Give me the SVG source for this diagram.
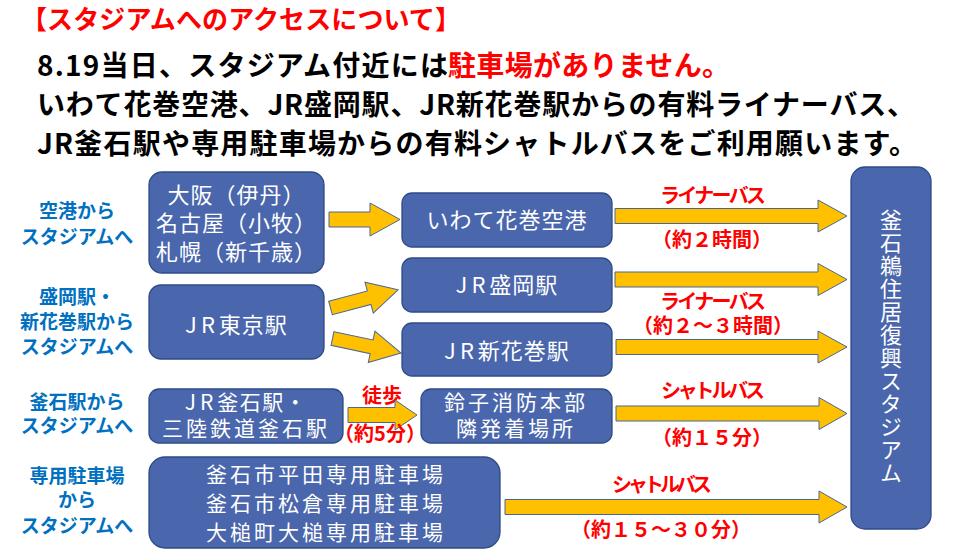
<svg xmlns="http://www.w3.org/2000/svg" width="960" height="556" viewBox="0 0 960 556">
<style>
text { font-family: "Noto Sans CJK JP", "Liberation Sans", sans-serif; }
.box { fill: #4A66AC; stroke: #2F4B86; stroke-width: 1.3; }
.arw { fill: #FFC000; stroke: #4A6796; stroke-width: 1; }
.wt { fill: #FFFFFF; font-size: 22px; text-anchor: middle; letter-spacing: 1px; }
.wp { fill: #FFFFFF; font-size: 21px; text-anchor: middle; letter-spacing: 3px; }
.w2 { fill: #FFFFFF; font-size: 21px; text-anchor: middle; letter-spacing: 1.5px; }
.jr { letter-spacing: 4px; }
.bl { fill: #0070C0; font-size: 19px; font-weight: 700; text-anchor: middle; }
.rd { fill: #FF0000; font-size: 20px; font-weight: 700; text-anchor: middle; }
.hd { fill: #000000; font-size: 28px; font-weight: 700; }
</style>
<rect width="960" height="556" fill="#FFFFFF"/>

<g id="heading">
  <text x="21" y="29" font-size="26" font-weight="700" fill="#FF0000" textLength="440" lengthAdjust="spacing">【スタジアムへのアクセスについて】</text>
  <text class="hd" x="37" y="76" textLength="411" lengthAdjust="spacing">8.19当日、スタジアム付近には</text>
  <text class="hd" x="448" y="76" fill="#FF0000" style="fill:#FF0000" textLength="282" lengthAdjust="spacing">駐車場がありません。</text>
  <text class="hd" x="37" y="115" textLength="878" lengthAdjust="spacing">いわて花巻空港、JR盛岡駅、JR新花巻駅からの有料ライナーバス、</text>
  <text class="hd" x="37" y="154" textLength="880" lengthAdjust="spacing">JR釜石駅や専用駐車場からの有料シャトルバスをご利用願います。</text>
</g>

<g id="labels">
  <text class="bl" x="77" y="218">空港から</text>
  <text class="bl" x="77" y="244">スタジアムへ</text>
  <text class="bl" x="77" y="304">盛岡駅・</text>
  <text class="bl" x="77" y="329">新花巻駅から</text>
  <text class="bl" x="77" y="354">スタジアムへ</text>
  <text class="bl" x="77" y="409">釜石駅から</text>
  <text class="bl" x="77" y="433">スタジアムへ</text>
  <text class="bl" x="77" y="483">専用駐車場</text>
  <text class="bl" x="77" y="507">から</text>
  <text class="bl" x="77" y="533">スタジアムへ</text>
</g>

<g id="connectors">
  <polygon class="arw" points="329,212 370,212 370,203 400,219.5 370,236 370,227 329,227"/>
  <polygon class="arw" transform="translate(330.5,308) rotate(-15)" points="0,-7 40,-7 40,-16 70,0 40,16 40,7 0,7"/>
  <polygon class="arw" transform="translate(332.5,338.5) rotate(12)" points="0,-7 40,-7 40,-16 70,0 40,16 40,7 0,7"/>
  <polygon class="arw" points="615,208.5 818,208.5 818,200 847,216 818,232 818,223.5 615,223.5"/>
  <polygon class="arw" points="615,272 818,272 818,263.5 847,279.5 818,295.5 818,287 615,287"/>
  <polygon class="arw" points="616,339.5 818,339.5 818,331 847,347 818,363 818,354.5 616,354.5"/>
  <text class="rd" x="382" y="403">徒歩</text>
  <polygon class="arw" points="348,407.5 395,407.5 395,400 417,415 395,430 395,422.5 348,422.5"/>
  <polygon class="arw" points="616,406 819,406 819,397.5 847,413.5 819,429.5 819,421 616,421"/>
  <polygon class="arw" points="505,499.5 819,499.5 819,491 847,507 819,523 819,514.5 505,514.5"/>
  <text class="rd" x="713" y="203" textLength="106" lengthAdjust="spacing">ライナーバス</text>
  <text class="rd" x="712" y="247">（約２時間）</text>
  <text class="rd" x="713" y="309" textLength="106" lengthAdjust="spacing">ライナーバス</text>
  <text class="rd" x="713" y="333">（約２～３時間）</text>
  <text class="rd" x="713" y="398" textLength="104" lengthAdjust="spacing">シャトルバス</text>
  <text class="rd" x="712" y="445">（約１５分）</text>
  <text class="rd" x="662" y="492" textLength="100" lengthAdjust="spacing">シャトルバス</text>
  <text class="rd" x="661" y="537">（約１５～３０分）</text>
  <text class="rd" x="380" y="441">（約5分）</text>
</g>

<g id="node-airports">
  <rect class="box" x="149" y="172" width="175" height="101" rx="13"/>
  <text class="wt" x="236.5" y="203" letter-spacing="0">大阪（伊丹）</text>
  <text class="wt" x="236.5" y="231" letter-spacing="0">名古屋（小牧）</text>
  <text class="wt" x="236.5" y="260" letter-spacing="0">札幌（新千歳）</text>
</g>
<g id="node-tokyo">
  <rect class="box" x="149" y="285" width="175" height="74" rx="12"/>
  <text class="wt" x="236.5" y="333"><tspan class="jr">JR</tspan>東京駅</text>
</g>
<g id="node-hanamaki-airport">
  <rect class="box" x="402" y="193" width="210" height="54" rx="10"/>
  <text class="wt" x="507" y="228" letter-spacing="2">いわて花巻空港</text>
</g>
<g id="node-morioka">
  <rect class="box" x="402" y="258" width="210" height="54" rx="10"/>
  <text class="wt" x="507" y="293"><tspan class="jr">JR</tspan>盛岡駅</text>
</g>
<g id="node-shinhanamaki">
  <rect class="box" x="402" y="323" width="210" height="53" rx="10"/>
  <text class="wt" x="507" y="359"><tspan class="jr">JR</tspan>新花巻駅</text>
</g>
<g id="node-kamaishi">
  <rect class="box" x="149" y="389" width="194" height="54" rx="10"/>
  <text class="w2" x="246" y="410"><tspan class="jr">JR</tspan>釜石駅・</text>
  <text class="wp" x="246" y="436">三陸鉄道釜石駅</text>
</g>
<g id="node-suzuko">
  <rect class="box" x="421" y="389" width="191" height="54" rx="10"/>
  <text class="wp" x="516" y="410">鈴子消防本部</text>
  <text class="wp" x="516" y="436">隣発着場所</text>
</g>
<g id="node-parking">
  <rect class="box" x="149" y="457" width="351" height="91" rx="16"/>
  <text class="wp" x="326" y="482" letter-spacing="3">釜石市平田専用駐車場</text>
  <text class="wp" x="326" y="511" letter-spacing="3">釜石市松倉専用駐車場</text>
  <text class="wp" x="326" y="540" letter-spacing="3">大槌町大槌専用駐車場</text>
</g>
<g id="node-stadium">
  <rect class="box" x="851" y="167" width="80" height="362" rx="14"/>
  <text class="wt" x="891" y="347" writing-mode="vertical-rl" style="writing-mode: vertical-rl">釜石鵜住居復興スタジアム</text>
</g>
</svg>
